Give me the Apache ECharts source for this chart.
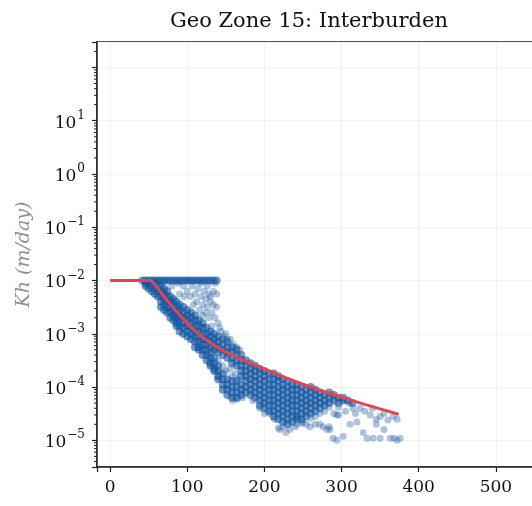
<!DOCTYPE html>
<html>
<head>
<meta charset="utf-8">
<script src="https://cdn.jsdelivr.net/npm/echarts@6/dist/echarts.min.js"></script>
<style>
html,body{margin:0;padding:0;background:#fff;}
#chart{width:532px;height:506px;}
</style>
</head>
<body>
<div id="chart"></div>
<script>
// ---- Data ----
const titleText = 'Geo Zone 15: Interburden';
const yName = 'Kh (m/day)';
const xTicks = [0, 100, 200, 300, 400, 500];

// points sitting on the 1e-2 ceiling
const plateauX = [42, 46, 50, 54, 58, 62, 66, 70, 74, 78, 82, 86, 90, 94, 98, 102, 106, 110, 114, 118, 122, 126, 130, 134, 138];
const plateauKh = 1.0e-2;

// dense band: one column of Kh values per distance
const bandX = [46, 50, 54, 58, 62, 66, 70, 74, 78, 82, 86, 90, 95, 100, 105, 110, 115, 120, 125, 130, 135, 140, 146, 152, 158, 164, 170, 176, 182, 188, 194, 200, 206, 212, 218, 224, 230, 236, 242, 248, 254, 260, 266, 272, 278, 284, 290, 296, 302, 308, 314];
const bandKh = [
  [8.9e-3, 7.9e-3],
  [8.9e-3, 7.1e-3],
  [7.9e-3, 6.3e-3],
  [8.9e-3, 7.1e-3, 5.6e-3],
  [7.9e-3, 6.3e-3, 5.0e-3],
  [7.9e-3, 6.3e-3, 5.0e-3, 4.0e-3, 3.2e-3],
  [7.1e-3, 5.6e-3, 4.5e-3, 3.5e-3, 2.8e-3],
  [6.3e-3, 5.0e-3, 4.0e-3, 3.2e-3, 2.5e-3],
  [5.0e-3, 4.0e-3, 3.2e-3, 2.5e-3, 2.0e-3],
  [4.5e-3, 3.5e-3, 2.8e-3, 2.2e-3, 1.8e-3],
  [4.0e-3, 3.2e-3, 2.5e-3, 2.0e-3, 1.6e-3, 1.4e-3],
  [3.5e-3, 2.8e-3, 2.2e-3, 1.8e-3, 1.4e-3, 1.1e-3],
  [3.2e-3, 2.5e-3, 2.0e-3, 1.6e-3, 1.3e-3, 1.0e-3],
  [2.8e-3, 2.2e-3, 1.8e-3, 1.4e-3, 1.1e-3, 8.9e-4],
  [2.5e-3, 2.0e-3, 1.6e-3, 1.3e-3, 1.0e-3, 7.9e-4],
  [2.2e-3, 1.8e-3, 1.4e-3, 1.1e-3, 8.9e-4, 7.1e-4, 5.6e-4],
  [1.8e-3, 1.4e-3, 1.1e-3, 8.9e-4, 7.1e-4, 5.6e-4, 5.0e-4],
  [1.6e-3, 1.3e-3, 1.0e-3, 7.9e-4, 6.3e-4, 5.0e-4, 4.0e-4],
  [1.3e-3, 1.0e-3, 7.9e-4, 6.3e-4, 5.0e-4, 4.0e-4, 3.2e-4],
  [1.1e-3, 8.9e-4, 7.1e-4, 5.6e-4, 4.5e-4, 3.5e-4, 2.8e-4, 2.5e-4],
  [1.0e-3, 7.9e-4, 6.3e-4, 5.0e-4, 3.5e-4, 2.8e-4, 2.2e-4, 2.0e-4],
  [8.9e-4, 7.1e-4, 5.6e-4, 4.5e-4, 2.5e-4, 2.0e-4, 1.6e-4, 1.4e-4],
  [7.9e-4, 6.3e-4, 5.0e-4, 4.0e-4, 1.8e-4, 1.4e-4, 1.1e-4, 8.9e-5],
  [7.1e-4, 5.6e-4, 4.5e-4, 3.5e-4, 1.4e-4, 1.1e-4, 8.9e-5, 7.1e-5],
  [5.6e-4, 4.5e-4, 3.5e-4, 2.8e-4, 1.3e-4, 1.0e-4, 7.9e-5, 6.3e-5],
  [5.0e-4, 4.0e-4, 3.2e-4, 2.5e-4, 1.3e-4, 1.0e-4, 7.9e-5, 6.3e-5],
  [4.0e-4, 3.2e-4, 2.5e-4, 2.0e-4, 1.6e-4, 1.1e-4, 8.9e-5, 7.1e-5],
  [3.2e-4, 2.5e-4, 2.0e-4, 1.6e-4, 1.3e-4, 1.0e-4, 7.9e-5],
  [2.8e-4, 2.2e-4, 1.8e-4, 1.4e-4, 1.1e-4, 8.9e-5, 7.1e-5],
  [2.5e-4, 2.0e-4, 1.6e-4, 1.3e-4, 1.0e-4, 7.9e-5, 6.3e-5],
  [2.2e-4, 1.8e-4, 1.4e-4, 1.1e-4, 8.9e-5, 7.1e-5, 5.6e-5, 4.5e-5],
  [2.0e-4, 1.6e-4, 1.3e-4, 1.0e-4, 7.9e-5, 6.3e-5, 5.0e-5, 4.0e-5],
  [1.8e-4, 1.4e-4, 1.1e-4, 8.9e-5, 7.1e-5, 5.6e-5, 4.5e-5, 3.5e-5],
  [1.8e-4, 1.4e-4, 1.1e-4, 8.9e-5, 7.1e-5, 5.6e-5, 4.5e-5, 3.5e-5, 2.8e-5],
  [1.6e-4, 1.3e-4, 1.0e-4, 7.9e-5, 6.3e-5, 5.0e-5, 4.0e-5, 3.2e-5, 2.5e-5],
  [1.4e-4, 1.1e-4, 8.9e-5, 7.1e-5, 5.6e-5, 4.5e-5, 3.5e-5, 2.8e-5, 2.2e-5],
  [1.3e-4, 1.0e-4, 7.9e-5, 6.3e-5, 5.0e-5, 4.0e-5, 3.2e-5, 2.5e-5, 2.0e-5],
  [1.1e-4, 8.9e-5, 7.1e-5, 5.6e-5, 4.5e-5, 3.5e-5, 2.8e-5, 2.2e-5],
  [1.1e-4, 8.9e-5, 7.1e-5, 5.6e-5, 4.5e-5, 3.5e-5, 2.8e-5, 2.5e-5],
  [1.0e-4, 7.9e-5, 6.3e-5, 5.0e-5, 4.0e-5, 3.2e-5, 2.5e-5],
  [8.9e-5, 7.1e-5, 5.6e-5, 4.5e-5, 3.5e-5, 2.8e-5],
  [1.0e-4, 7.9e-5, 6.3e-5, 5.0e-5, 4.0e-5, 3.2e-5],
  [8.9e-5, 7.1e-5, 5.6e-5, 4.5e-5, 3.5e-5],
  [7.9e-5, 6.3e-5, 5.0e-5, 4.0e-5],
  [7.1e-5, 5.6e-5, 4.5e-5],
  [7.9e-5, 6.3e-5, 5.0e-5],
  [7.1e-5, 5.6e-5],
  [6.3e-5, 5.0e-5],
  [6.3e-5, 5.6e-5],
  [5.6e-5],
  [5.0e-5]
];

// scattered lighter points (distance, Kh)
const looseX = [80, 88, 95, 100, 106, 110, 114, 118, 122, 126, 130, 134, 104, 112, 120, 126, 130, 116, 124, 132, 128, 136, 120, 132, 140, 144, 142, 148, 150, 152, 156, 160, 164, 168, 138, 108, 96, 90, 138, 128, 136, 118, 124, 134,
  140, 146, 150, 155, 158, 162, 166,
  159, 165, 172, 185, 194, 200, 207, 213, 218, 220, 224, 228, 233, 240, 242, 248, 250, 254, 259, 260, 266, 266, 272, 272, 276, 278, 281, 284, 284, 285, 289, 290, 294, 294, 296, 296, 302, 305, 310, 311, 315, 318, 320, 324, 328, 330, 333, 337, 340, 341, 345, 345, 350, 350, 355, 355, 360, 363, 367, 368, 372, 372, 376];
const looseKh = [7.9e-3, 8.9e-3, 7.9e-3, 6.3e-3, 7.9e-3, 5.6e-3, 7.1e-3, 5.0e-3, 6.3e-3, 7.9e-3, 5.0e-3, 6.3e-3, 5.0e-3, 4.0e-3, 3.5e-3, 3.2e-3, 4.0e-3, 2.8e-3, 2.5e-3, 2.5e-3, 2.0e-3, 2.0e-3, 2.2e-3, 1.4e-3, 1.6e-3, 1.1e-3, 1.3e-3, 8.9e-4, 1.0e-3, 7.9e-4, 7.9e-4, 6.3e-4, 5.6e-4, 5.0e-4, 3.2e-3, 3.5e-3, 5.0e-3, 5.6e-3, 5.6e-3, 5.6e-3, 8.9e-3, 8.9e-3, 4.5e-3, 3.5e-3,
  3.2e-4, 2.5e-4, 2.0e-4, 2.2e-4, 1.6e-4, 1.8e-4, 1.4e-4,
  5.6e-5, 6.0e-5, 6.3e-5, 5.6e-5, 4.0e-5, 3.2e-5, 3.2e-5, 2.5e-5, 1.7e-5, 1.6e-5, 1.8e-5, 1.4e-5, 1.6e-5, 1.8e-5, 2.0e-5, 2.1e-5, 2.2e-5, 2.0e-5, 1.8e-5, 2.6e-5, 2.8e-5, 2.0e-5, 3.2e-5, 2.0e-5, 1.8e-5, 3.5e-5, 1.6e-5, 4.2e-5, 1.8e-5, 1.6e-5, 1.1e-5, 3.2e-5, 3.0e-5, 1.0e-5, 4.2e-5, 3.0e-5, 1.2e-5, 3.5e-5, 5.0e-5, 2.0e-5, 4.0e-5, 3.2e-5, 2.2e-5, 4.0e-5, 1.4e-5, 3.5e-5, 1.1e-5, 3.0e-5, 4.0e-5, 1.1e-5, 2.5e-5, 2.0e-5, 2.8e-5, 1.1e-5, 3.2e-5, 1.6e-5, 2.4e-5, 1.1e-5, 2.8e-5, 1.1e-5, 2.5e-5, 1.0e-5, 1.1e-5];

// fitted curve (red)
const fitX  = [0, 52, 56, 60, 65, 70, 80, 90, 100, 110, 120, 135, 150, 170, 190, 210, 230, 250, 270, 290, 310, 330, 350, 374];
const fitKh = [1.0e-2, 1.0e-2, 9.12e-3, 7.76e-3, 6.2e-3, 5.01e-3, 3.31e-3, 2.26e-3, 1.585e-3, 1.148e-3, 8.61e-4, 6.03e-4, 4.52e-4, 3.31e-4, 2.51e-4, 1.905e-4, 1.462e-4, 1.135e-4, 8.91e-5, 7.16e-5, 5.82e-5, 4.73e-5, 3.89e-5, 3.09e-5];

// axis extents
const xMin = -17, xMax = 600;
const yMin = 3.16e-6, yMax = 300;

// ---- build series data ----
const bandPts = [];
plateauX.forEach(x => bandPts.push([x, plateauKh]));
bandX.forEach((x, i) => bandKh[i].forEach(v => bandPts.push([x, v])));
const loosePts = looseX.map((x, i) => [x, looseKh[i]]);
const fitData = fitX.map((x, i) => [x, fitKh[i]]);

// minor tick positions on the log axis (axis decoration)
const minorTicks = [];
for (let e = -6; e <= 2; e++) {
  for (let k = 2; k <= 9; k++) {
    const v = k * Math.pow(10, e);
    if (v > yMin && v < yMax) minorTicks.push([xMin, v]);
  }
}

const serif = 'DejaVu Serif';
const chart = echarts.init(document.getElementById('chart'), null, {renderer: 'canvas'});
chart.setOption({
  animation: false,
  backgroundColor: '#ffffff',
  title: {
    text: titleText,
    left: 309, top: 11, padding: 0,
    textAlign: 'center', textVerticalAlign: 'top',
    textStyle: {fontFamily: serif, fontSize: 21, fontWeight: 'normal', color: '#111'}
  },
  grid: {
    left: 97, top: 42, bottom: 39, right: -41,
    outerBoundsMode: 'none', containLabel: false,
    show: true, borderColor: '#222', borderWidth: 1.5, backgroundColor: 'transparent'
  },
  xAxis: {
    type: 'value', min: xMin, max: xMax, splitNumber: 6,
    axisLine: {onZero: false, lineStyle: {color: '#222', width: 1.5}},
    axisTick: {length: 5, lineStyle: {color: '#222', width: 1.2}},
    splitLine: {show: true, lineStyle: {color: '#f1f1f1', width: 1}},
    axisLabel: {
      margin: 12, fontFamily: serif, fontSize: 17, color: '#111',
      formatter: v => (xTicks.indexOf(v) >= 0 ? String(v) : '')
    }
  },
  yAxis: {
    type: 'log', logBase: 10, min: yMin, max: yMax,
    name: yName, nameLocation: 'middle', nameGap: 62,
    nameTextStyle: {fontFamily: serif, fontStyle: 'italic', fontSize: 19, color: '#8f8f8f'},
    axisLine: {show: true, onZero: false, lineStyle: {color: '#222', width: 1.5}},
    axisTick: {show: true, length: 5, lineStyle: {color: '#222', width: 1.2}},
    splitLine: {show: true, lineStyle: {color: '#f1f1f1', width: 1}},
    axisLabel: {
      margin: 12, color: '#111',
      formatter: function (v) {
        const l = Math.log10(v);
        const e = Math.round(l);
        if (Math.abs(l - e) > 1e-6 || e === 2) return '';
        const s = e < 0 ? '\u2212' + (-e) : String(e);
        return '{b|10}{s|' + s + '}';
      },
      rich: {
        b: {fontFamily: serif, fontSize: 17, color: '#111', lineHeight: 22, verticalAlign: 'bottom'},
        s: {fontFamily: serif, fontSize: 12, color: '#111', lineHeight: 22, verticalAlign: 'top', padding: [0, 0, 0, 1]}
      }
    }
  },
  series: [
    {
      type: 'scatter', data: bandPts, symbol: 'circle', symbolSize: 8,
      itemStyle: {color: 'rgba(12,82,158,0.75)', borderWidth: 0}, z: 2, silent: true
    },
    {
      type: 'scatter', data: loosePts, symbol: 'circle', symbolSize: 7,
      itemStyle: {color: 'rgba(30,92,162,0.45)', borderWidth: 0}, z: 2, silent: true
    },
    {
      type: 'line', data: fitData, showSymbol: false, smooth: false,
      lineStyle: {color: '#e5434e', width: 3}, z: 3, silent: true
    },
    {
      type: 'custom', data: minorTicks, silent: true, clip: false, z: 4,
      renderItem: function (params, api) {
        const p = api.coord([api.value(0), api.value(1)]);
        return {type: 'line', shape: {x1: p[0] - 3, y1: p[1], x2: p[0], y2: p[1]}, style: {stroke: '#222', lineWidth: 1}};
      }
    }
  ]
});
</script>
</body>
</html>
